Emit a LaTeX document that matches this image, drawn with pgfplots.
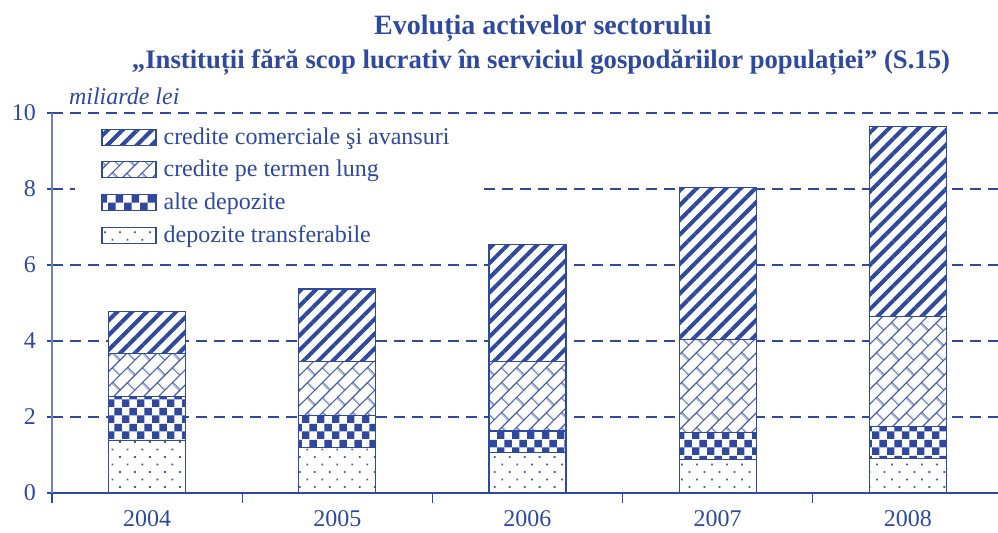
\documentclass[border=0pt]{standalone}
\usepackage{pgfplots}
\pgfplotsset{compat=1.18}
\usepackage{fontspec}
\setmainfont{Liberation Serif}
\usetikzlibrary{patterns.meta}
\definecolor{cb}{RGB}{46,73,158}
\definecolor{cbl}{RGB}{110,130,195}
\definecolor{cbm}{RGB}{70,94,172}

\tikzdeclarepattern{
  name=checker, type=uncolored,
  bottom left={(0pt,0pt)}, top right={(7.7pt,7.7pt)},
  tile size={(7.7pt,7.7pt)},
  code={\fill (0pt,0pt) rectangle (3.85pt,3.85pt); \fill (3.85pt,3.85pt) rectangle (7.7pt,7.7pt);}
}
\tikzdeclarepattern{
  name=diagbrick, type=uncolored,
  bottom left={(0pt,0pt)}, top right={(10.6pt,10.6pt)},
  tile size={(10.6pt,10.6pt)},
  tile transformation={rotate=45},
  code={\draw[line width=0.7pt] (0pt,2.65pt)--(10.6pt,2.65pt) (0pt,7.95pt)--(10.6pt,7.95pt) (2.65pt,2.65pt)--(2.65pt,7.95pt) (7.95pt,7.95pt)--(7.95pt,10.6pt) (7.95pt,0pt)--(7.95pt,2.65pt);}
}

\pgfplotsset{
  mylegend/.style={legend image code/.code={\draw[##1,/tikz/.cd] (0pt,-4pt) rectangle (27pt,4pt);}},
}

\begin{document}
\begin{tikzpicture}
\useasboundingbox (-26pt,-19.5pt) rectangle (473pt,246.5pt);
\begin{axis}[
  at={(0pt,0pt)}, anchor=south west,
  scale only axis, width=475.5pt, height=190pt,
  ybar stacked, bar width=0.405,
  xmin=-0.5, xmax=4.5, ymin=0, ymax=10,
  enlargelimits=false,
  xtick={-0.5,0.5,1.5,2.5,3.5,4.5},
  x tick label as interval,
  xticklabels={2004,2005,2006,2007,2008},
  ytick={0,2,4,6,8,10},
  /pgf/number format/assume math mode=true,
  axis lines*=left,
  x axis line style={draw=cb, line width=0.6pt},
  y axis line style={draw=cbl, line width=0.9pt},
  tick style={draw=cb, line width=0.6pt},
  major tick length=5pt,
  xtick align=outside,
  ytick align=center,
  tick label style={font=\fontsize{12}{14}\selectfont, text=cb},
  yticklabel style={xshift=-2pt},
  ymajorgrids,
  major grid style={draw=cb, dash pattern=on 5.5pt off 3.5pt, line width=0.6pt},
  reverse legend,
  legend cell align=left,
  legend style={at={(rel axis cs:0,1)}, anchor=north west, xshift=11.5pt, yshift=-3pt,
    draw=none, fill=white, inner xsep=13pt, inner ysep=3pt,
    font=\fontsize{12}{14}\selectfont, text=cb,
    nodes={inner sep=1pt}, row sep=4.5pt,
    /tikz/every odd column/.append style={column sep=2.5pt}},
]
\addplot[draw=cb, line width=0.6pt, fill=white, postaction={pattern={Dots[angle=45,distance=5.3pt,radius=0.65pt]}, pattern color=cbm}, mylegend]
  coordinates {(0,1.39) (1,1.20) (2,1.06) (3,0.89) (4,0.91)};
\addplot[draw=cb, line width=0.6pt, fill=white, postaction={pattern=checker, pattern color=cb}, mylegend]
  coordinates {(0,1.14) (1,0.85) (2,0.57) (3,0.70) (4,0.85)};
\addplot[draw=cb, line width=0.6pt, fill=white, postaction={pattern=diagbrick, pattern color=cbm}, mylegend]
  coordinates {(0,1.15) (1,1.42) (2,1.83) (3,2.45) (4,2.88)};
\addplot[draw=cb, line width=0.6pt, fill=white, postaction={pattern={Lines[angle=45,distance=5.2pt,line width=2pt]}, pattern color=cb}, mylegend]
  coordinates {(0,1.09) (1,1.90) (2,3.09) (3,4.00) (4,5.00)};
\legend{depozite transferabile, alte depozite, credite pe termen lung, credite comerciale şi avansuri}
\end{axis}
\node[anchor=base west, font=\itshape\fontsize{12}{14}\selectfont, text=cb] at (5pt,194.5pt) {miliarde lei};
\node[anchor=base, font=\bfseries\fontsize{14}{16}\selectfont, text=cb] at (245.5pt,229.5pt) {Evoluția activelor sectorului};
\node[anchor=base, font=\bfseries\fontsize{13.35}{16}\selectfont, text=cb] at (244.5pt,212.5pt) {„Instituții fără scop lucrativ în serviciul gospodăriilor populației” (S.15)};
\end{tikzpicture}
\end{document}
